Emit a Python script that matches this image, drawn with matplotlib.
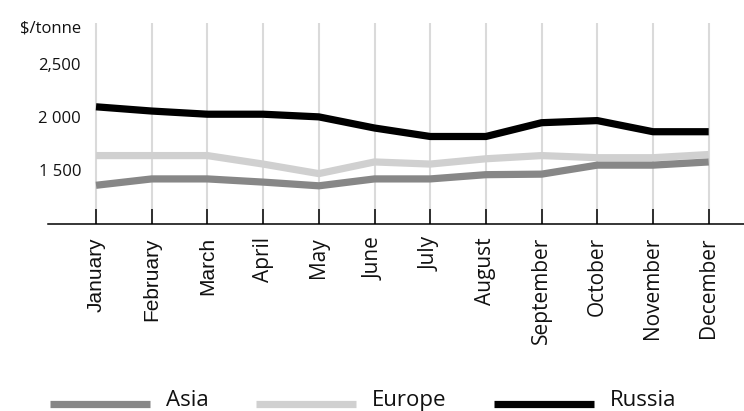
import numpy as np
import matplotlib
matplotlib.use("Agg")
import matplotlib.pyplot as plt
from matplotlib.legend_handler import HandlerLine2D

# Monthly prices, $/tonne
months = ["January", "February", "March", "April", "May", "June", "July",
          "August", "September", "October", "November", "December"]
asia = [1360, 1420, 1420, 1390, 1355, 1420, 1420, 1460, 1465, 1550, 1550, 1580]
europe = [1640, 1640, 1640, 1560, 1470, 1580, 1560, 1610, 1640, 1620, 1620, 1650]
russia = [2100, 2060, 2030, 2030, 2005, 1900, 1820, 1820, 1950, 1970, 1865, 1865]

y_ticks = [1500, 2000, 2500]
y_tick_labels = ["1 500", "2 000", "2,500"]

TEXT = "#111111"
WEIGHT = "medium"

fig = plt.figure(figsize=(7.44, 4.11), dpi=100)
ax = fig.add_axes([48 / 744, 187 / 411, 696 / 744, 201 / 411])

x = np.arange(len(months))
line_kw = dict(lw=5.2, solid_capstyle="butt", solid_joinstyle="round")
l_eu, = ax.plot(x, europe, color="#d0d0d0", label="Europe", zorder=2, **line_kw)
l_as, = ax.plot(x, asia, color="#878787", label="Asia", zorder=3, **line_kw)
l_ru, = ax.plot(x, russia, color="#000000", label="Russia", zorder=4, **line_kw)

ax.set_xlim(-0.862, 11.634)
ax.set_ylim(995, 2890)

# vertical month gridlines only
ax.set_axisbelow(True)
ax.grid(axis="x", color="#dadada", lw=1.5)
ax.grid(axis="y", visible=False)

for side in ("left", "right", "top"):
    ax.spines[side].set_visible(False)
ax.spines["bottom"].set_color("black")
ax.spines["bottom"].set_linewidth(1.1)

ax.set_xticks(x, labels=months, rotation=90)
ax.tick_params(axis="x", direction="in", length=10.8, width=1.1, color="black",
               pad=9.5, labelsize=15, labelcolor=TEXT)
for i, lab in enumerate(ax.get_xticklabels()):
    lab.set_family("Liberation Sans" if i < 3 else "Open Sans")
    lab.set_va("top")
    if i >= 3:
        lab.set_weight(WEIGHT)

ax.set_yticks(y_ticks, labels=y_tick_labels)
ax.tick_params(axis="y", length=0, pad=-23.8, labelsize=12, labelcolor=TEXT)
for lab in ax.get_yticklabels():
    lab.set_family("Open Sans")
    lab.set_weight(WEIGHT)

fig.text(81 / 744, 1 - 28 / 411, "$/tonne", ha="right", va="center",
         fontsize=12, color=TEXT, family="Open Sans", weight=WEIGHT)


class BaselineLine(HandlerLine2D):
    """Legend key drawn a little lower, near the text baseline."""
    def create_artists(self, legend, orig_handle, xdescent, ydescent,
                       width, height, fontsize, trans):
        artists = super().create_artists(legend, orig_handle, xdescent, ydescent,
                                         width, height, fontsize, trans)
        for a in artists:
            a.set_ydata(np.asarray(a.get_ydata(), float) - 0.28 * fontsize)
        return artists


handler = BaselineLine()
leg = ax.legend(handles=[l_as, l_eu, l_ru], labels=["Asia", "Europe", "Russia"],
                loc="center left", bbox_to_anchor=(50 / 744, 1 - 400 / 411),
                bbox_transform=fig.transFigure, ncol=3, frameon=False,
                prop={"family": "Open Sans", "size": 16, "weight": WEIGHT},
                handlelength=4.5, handletextpad=0.7, columnspacing=2.15,
                borderpad=0, borderaxespad=0,
                handler_map={l_as: handler, l_eu: handler, l_ru: handler})
for t in leg.get_texts():
    t.set_color(TEXT)

fig.savefig("out.png", dpi=100)
